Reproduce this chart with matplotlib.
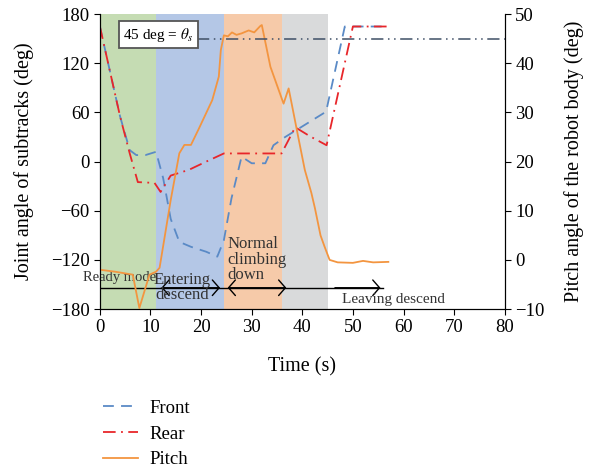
import numpy as np
import matplotlib.pyplot as plt

plt.rcParams['font.family'] = ['Liberation Serif', 'DejaVu Serif']
plt.rcParams['mathtext.fontset'] = 'stix'

# front subtrack joint angle (deg)
t_front = [0, 2, 4, 5.9, 7.2, 9, 11.1, 12.5, 14, 15.7, 18, 21, 23.2, 24.5, 26, 28, 30, 32.7, 34.3, 36.6, 40, 44.7, 48.4, 57]
front = [165, 110, 55, 14, 8, 8, 12, -20, -70, -98, -104, -110, -116, -96, -45, 6, -2, -2, 20, 30, 43, 61, 165, 165]

# rear subtrack joint angle (deg)
t_rear = [0, 2, 4, 5.9, 7.5, 10.8, 12, 14, 17.6, 21, 24.5, 35.9, 38.6, 41.5, 44.8, 50, 57]
rear = [165, 110, 55, 10, -25, -26, -37, -17, -10, 0, 10, 10, 42, 31, 20, 165, 165]

# pitch of robot body (deg)
t_pitch = [0, 3, 6.5, 7.8, 9.8, 11.1, 11.8, 14, 15.7, 16.7, 18, 19.6, 22.2, 23.5, 23.9, 24.5,
           25.3, 26.1, 27, 28, 29.4, 30.5, 31.7, 32, 33.7, 36.3, 37.3, 37.9, 39.2, 40.5, 41.8,
           42.5, 43.1, 43.6, 44.4, 45.4, 47, 50, 52, 54, 57]
pitch = [-2.0, -2.4, -3.0, -9.8, -3.0, -2.4, -1.6, 12.2, 21.7, 23.4, 23.4, 26.8, 32.5, 37.3, 42.7, 45.7,
         45.5, 46.3, 45.8, 46.1, 46.7, 46.3, 47.6, 47.8, 39.3, 31.8, 34.9, 31.8, 25.0, 18.3, 13.6,
         10.5, 7.5, 5.0, 2.7, 0.0, -0.5, -0.6, -0.2, -0.5, -0.4]

# phases
phase_edges = [0, 11, 24.5, 36, 45]
phase_colors = ['#c5dcb3', '#b4c7e6', '#f6caa9', '#d9dadb']

fig = plt.figure(figsize=(5.91, 4.74), dpi=100)
ax = fig.add_axes([0.169, 0.348, 0.685, 0.622])
ax2 = ax.twinx()

for i, c in enumerate(phase_colors):
    ax.axvspan(phase_edges[i], phase_edges[i + 1], color=c, lw=0, zorder=0)

l1, = ax.plot(t_front, front, ls=(0, (6, 4)), color='#5a8ac6', lw=1.3, label='Front')
l2, = ax.plot(t_rear, rear, ls=(0, (7, 3, 1, 3)), color='#e8262a', lw=1.3, label='Rear')
l3, = ax2.plot(t_pitch, pitch, color='#f39540', lw=1.3, label='Pitch')

# 45 deg reference line
ax2.plot([19.2, 80], [45, 45], ls=(0, (8, 3, 1, 3, 1, 3)), color='#3f4f66', lw=1.1)
ax2.text(11.6, 45.8, r'45 deg = $\theta_s$', fontsize=11, va='center', ha='center',
         bbox=dict(boxstyle='square,pad=0.3', fc='white', ec='#555555', lw=1.3))

# phase arrows
y_arr = -154
ax.plot([0, 56], [y_arr, y_arr], color='black', lw=1)
head = 'head_length=0.35,head_width=0.4'
ax.annotate('', xy=(11.6, y_arr), xytext=(24.3, y_arr),
            arrowprops=dict(arrowstyle='<->,' + head, color='black', lw=1, mutation_scale=14))
ax.annotate('', xy=(24.7, y_arr), xytext=(37.4, y_arr),
            arrowprops=dict(arrowstyle='<->,' + head, color='black', lw=1, mutation_scale=14))
ax.annotate('', xy=(45.9, y_arr), xytext=(56, y_arr),
            arrowprops=dict(arrowstyle='<-,' + head, color='black', lw=1, mutation_scale=14))

ax.text(3.8, -142, 'Ready mode', fontsize=10.5, ha='center', va='center', color='#333333')
ax.text(16.3, -154, 'Entering\ndescend', fontsize=12, ha='center', va='center', color='#333333', linespacing=0.95)
ax.text(25.2, -91, 'Normal\nclimbing\ndown', fontsize=12, ha='left', va='top', color='#333333', linespacing=0.95)
ax.text(47.8, -168, 'Leaving descend', fontsize=11, ha='left', va='center', color='#333333')

ax.set_xlim(0, 80)
ax.set_ylim(-180, 180)
ax2.set_ylim(-10, 50)
ax.set_xticks(range(0, 81, 10))
ax.set_yticks(range(-180, 181, 60))
ax2.set_yticks(range(-10, 51, 10))
ax.set_xlabel('Time (s)', fontsize=14.5, labelpad=15)
ax.set_ylabel('Joint angle of subtracks (deg)', fontsize=14.5, labelpad=12)
ax2.set_ylabel('Pitch angle of the robot body (deg)', fontsize=14.5, labelpad=14)
for a in (ax, ax2):
    a.tick_params(labelsize=13.5, length=4)
    a.spines['top'].set_visible(False)

fig.legend([l1, l2, l3], ['Front', 'Rear', 'Pitch'], loc='upper left',
           bbox_to_anchor=(0.145, 0.192), frameon=False, fontsize=13.5,
           handlelength=1.9, labelspacing=0.45, handletextpad=0.6)

fig.savefig('out.png', dpi=100)
